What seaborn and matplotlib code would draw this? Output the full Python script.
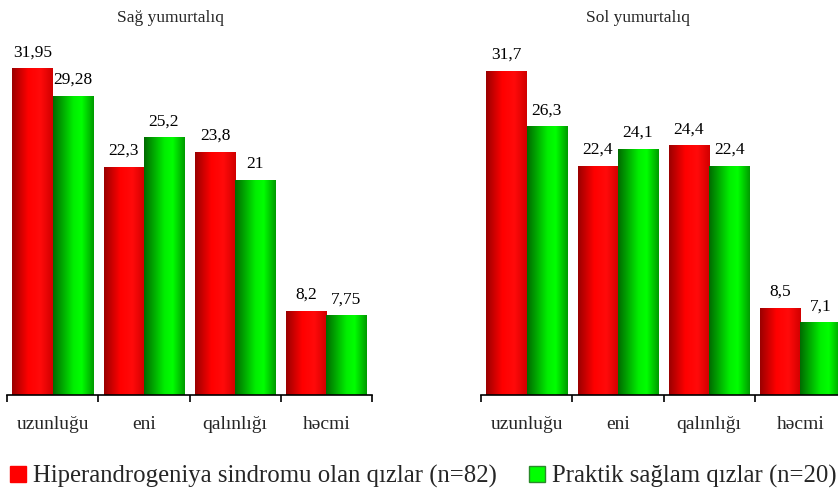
import numpy as np
import pandas as pd
import matplotlib
matplotlib.use('Agg')
import matplotlib.pyplot as plt
import seaborn as sns
from matplotlib.colors import LinearSegmentedColormap
from matplotlib.patches import Patch

# data
categories = ['uzunluğu', 'eni', 'qalınlığı', 'həcmi']
groups = ['Hiperandrogeniya sindromu olan qızlar (n=82)', 'Praktik sağlam qızlar (n=20)']
right_hyper = [31.95, 22.3, 23.8, 8.2]
right_healthy = [29.28, 25.2, 21, 7.75]
left_hyper = [31.7, 22.4, 24.4, 8.5]
left_healthy = [26.3, 24.1, 22.4, 7.1]
panel_titles = ['Sağ yumurtalıq', 'Sol yumurtalıq']

sns.set_theme(style='white')
plt.rcParams['font.family'] = ['Liberation Serif', 'DejaVu Serif']

red_cmap = LinearSegmentedColormap.from_list(
    'redbar', [(0, '#9a0000'), (0.4, '#ff0000'), (0.7, '#ff0a0a'), (1, '#d00000')])
green_cmap = LinearSegmentedColormap.from_list(
    'greenbar', [(0, '#006a00'), (0.5, '#00ee00'), (0.7, '#00ff00'), (1, '#009a00')])


def make_frame(hyper, healthy):
    rows = []
    for cat, v in zip(categories, hyper):
        rows.append({'cat': cat, 'val': v, 'group': groups[0]})
    for cat, v in zip(categories, healthy):
        rows.append({'cat': cat, 'val': v, 'group': groups[1]})
    return pd.DataFrame(rows)


def fmt(v):
    return f'{v:g}'.replace('.', ',')


fig = plt.figure(figsize=(8.38, 4.9), dpi=100)
W, H = 838, 490
ax_left = fig.add_axes([7 / W, (H - 395) / H, 365 / W, 347 / H])
ax_right = fig.add_axes([481 / W, (H - 395) / H, 365 / W, 347 / H])

panels = [(ax_left, right_hyper, right_healthy), (ax_right, left_hyper, left_healthy)]
grad = np.linspace(0, 1, 256).reshape(1, -1)

for ax, hyper, healthy in panels:
    df = make_frame(hyper, healthy)
    sns.barplot(data=df, x='cat', y='val', hue='group', hue_order=groups,
                palette=['#ff0000', '#00ff00'], width=0.88, legend=False,
                ax=ax, linewidth=0)

    # cylinder-like gradient on each bar
    for p in ax.patches:
        x0, y0 = p.get_x(), p.get_y()
        w, h = p.get_width(), p.get_height()
        if h <= 0:
            continue
        fc = p.get_facecolor()
        cmap = red_cmap if fc[0] > fc[1] else green_cmap
        ax.imshow(grad, extent=[x0, x0 + w, y0, y0 + h], aspect='auto',
                  cmap=cmap, zorder=p.get_zorder() + 0.1, interpolation='bilinear')
        ax.annotate(fmt(h), (x0 + w / 2, h), xytext=(0, 6), textcoords='offset points',
                    ha='center', va='bottom', fontsize=12.5, color='black')

    ax.set_xlim(-0.5, 3.5)
    ax.set_ylim(0, 34)
    ax.set_xlabel('')
    ax.set_ylabel('')
    ax.set_yticks([])
    for s in ['top', 'right', 'left']:
        ax.spines[s].set_visible(False)
    ax.spines['bottom'].set_color('black')
    ax.spines['bottom'].set_linewidth(1.2)
    ax.set_xticks(range(len(categories)))
    ax.set_xticklabels(categories, fontsize=14)
    ax.set_xticks(np.arange(-0.5, 4, 1), minor=True)
    ax.tick_params(axis='x', which='major', length=0, pad=15)
    ax.tick_params(axis='x', which='minor', length=5, width=1.2, color='black',
                   direction='out', bottom=True)
    ax.patch.set_alpha(0)

fig.text(170 / W, 1 - 18 / H, panel_titles[0], ha='center', va='center', fontsize=12.5)
fig.text(638 / W, 1 - 18 / H, panel_titles[1], ha='center', va='center', fontsize=12.5)

handles = [Patch(facecolor='#ff0000', edgecolor='#ff0000'),
           Patch(facecolor='#00ff00', edgecolor='#2a8a2a')]
fig.legend(handles, groups, loc='lower left', bbox_to_anchor=(10 / W, 2 / H),
           ncol=2, frameon=False, fontsize=17.8, handlelength=0.63, handleheight=0.63,
           handletextpad=0.3, columnspacing=1.3, borderpad=0, borderaxespad=0)

plt.savefig('out.png', dpi=100)
